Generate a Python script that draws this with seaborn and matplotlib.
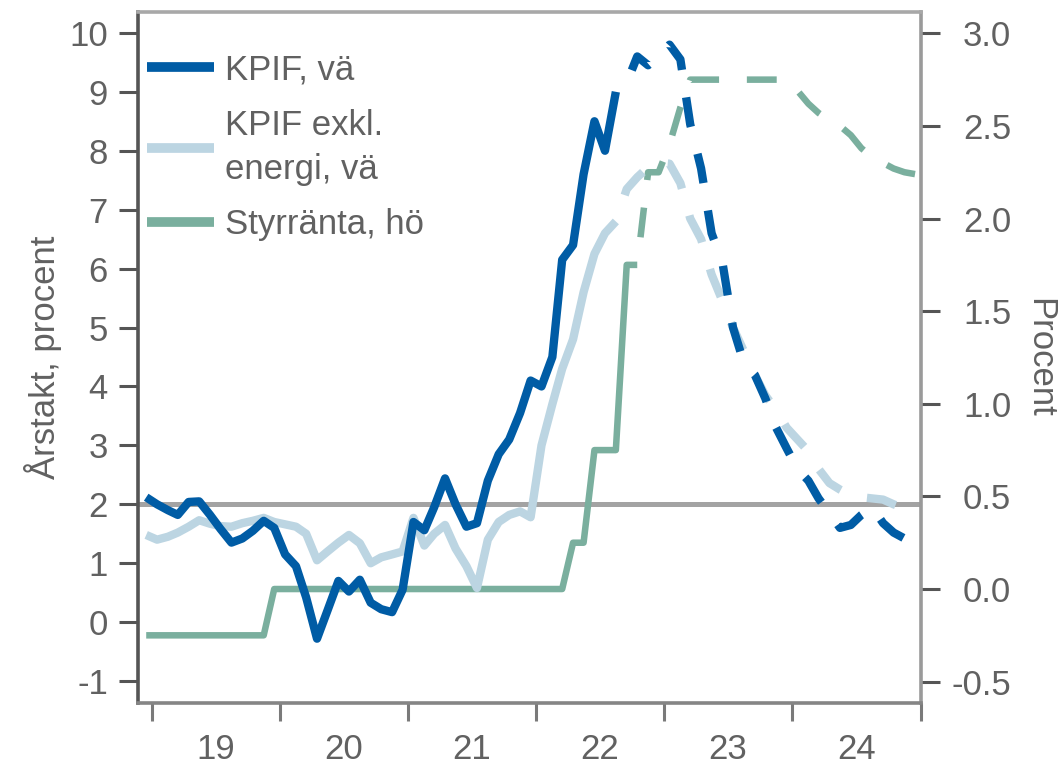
import matplotlib
matplotlib.use('Agg')
import matplotlib.pyplot as plt
from matplotlib.lines import Line2D
from matplotlib.ticker import FormatStrFormatter
from matplotlib.transforms import blended_transform_factory
import seaborn as sns
import pandas as pd

sns.set_theme(style='white')
plt.rcParams['font.family'] = ['Liberation Sans', 'DejaVu Sans']
plt.rcParams['axes.unicode_minus'] = False
plt.rcParams['lines.scale_dashes'] = False

TEXT = '#616161'
BLUE = '#005ca5'
LIGHT = '#bcd5e2'
GREEN = '#7aaf9e'

# månadsdata dec 2018 - dec 2024 (mitt i månaden)
months = pd.date_range('2018-12-01', '2024-12-01', freq='MS') + pd.Timedelta(days=15)

kpif = [2.12, 2.0, 1.9, 1.82, 2.04, 2.05, 1.82, 1.58, 1.35, 1.42,
        1.55, 1.72, 1.6, 1.15, 0.95, 0.42, -0.28, 0.2, 0.7, 0.52,
        0.72, 0.33, 0.22, 0.17, 0.55, 1.7, 1.56, 1.95, 2.44, 2.0,
        1.62, 1.68, 2.4, 2.85, 3.1, 3.55, 4.1, 4.0, 4.5, 6.15,
        6.4, 7.6, 8.5, 8.0, 9.0, 9.15, 9.6, 9.45, 9.6, 9.8,
        9.55, 8.45, 7.7, 6.6, 6.1, 5.0, 4.4, 4.2, 3.8, 3.3,
        2.95, 2.6, 2.4, 2.1, 1.85, 1.6, 1.65, 1.82, 1.95, 1.68,
        1.52, 1.42, 1.32]

kpif_ex_energy = [1.48, 1.4, 1.45, 1.52, 1.62, 1.73, 1.67, 1.63, 1.62, 1.68,
                  1.72, 1.77, 1.7, 1.66, 1.62, 1.5, 1.05, 1.2, 1.35, 1.48,
                  1.34, 1.0, 1.1, 1.15, 1.2, 1.77, 1.3, 1.5, 1.65, 1.25,
                  0.95, 0.58, 1.4, 1.7, 1.82, 1.88, 1.78, 3.0, 3.7, 4.3,
                  4.8, 5.6, 6.25, 6.6, 6.8, 7.35, 7.55, 7.72, 7.8, 7.78,
                  7.45, 6.85, 6.5, 5.9, 5.45, 5.0, 4.6, 4.2, 3.85, 3.6,
                  3.3, 3.1, 2.9, 2.6, 2.36, 2.25, 2.15, 2.12, 2.1, 2.08,
                  2.0, 1.93, 1.87]

policy_rate = [-0.25] * 12 + [0.0] * 28 + [0.25, 0.25, 0.75, 0.75, 0.75,
               1.75, 1.75, 2.25, 2.25, 2.4, 2.6] + [2.75] * 10 + [
               2.69, 2.62, 2.57, 2.53, 2.5, 2.45, 2.38, 2.33, 2.3, 2.27,
               2.25, 2.24]

kpif_last_outcome = 44   # aug 2022
rate_last_outcome = 46   # okt 2022
inflation_target = 2

year_ticks = pd.date_range('2019-01-01', '2025-01-01', freq='YS')
year_mid = pd.date_range('2019-07-01', '2024-07-01', freq='12MS')
year_labels = ['19', '20', '21', '22', '23', '24']

left_ticks = list(range(-1, 11))
right_ticks = [-0.5, 0.0, 0.5, 1.0, 1.5, 2.0, 2.5, 3.0]

ON, OFF = 21.5, 20.0
DASHED = (ON, (ON, OFF))

fig = plt.figure(figsize=(10.58, 7.67), dpi=100)
ax = fig.add_axes([0.1309, 0.0828, 0.7396, 0.9020])
ax2 = ax.twinx()
ax.set_zorder(2)
ax2.set_zorder(1)
ax.patch.set_visible(False)
ax2.patch.set_visible(True)
ax2.patch.set_facecolor('white')


def draw(axis, values, last, color, lw):
    df = pd.DataFrame({'månad': months, 'värde': values})
    sns.lineplot(data=df.iloc[:last + 1], x='månad', y='värde', color=color,
                 linewidth=lw, ax=axis, solid_capstyle='butt', solid_joinstyle='round')
    sns.lineplot(data=df.iloc[last:], x='månad', y='värde', color=color,
                 linewidth=lw, ax=axis, linestyle=DASHED, dash_capstyle='butt',
                 dash_joinstyle='round')


# reporänta på högeraxeln (bakom), inflationsmålet
draw(ax2, policy_rate, rate_last_outcome, GREEN, 4.7)
ax2.add_line(Line2D([0, 1], [inflation_target] * 2,
                    transform=blended_transform_factory(ax2.transAxes, ax.transData),
                    color='#a3a3a3', lw=3.6, zorder=0.5))
draw(ax, kpif_ex_energy, kpif_last_outcome, LIGHT, 6.0)
draw(ax, kpif, kpif_last_outcome, BLUE, 6.0)

ax.set_xlim(pd.Timestamp('2018-11-24'), pd.Timestamp('2025-01-02'))
ax.set_ylim(-1.38, 10.36)
ax2.set_ylim(-0.618, 3.117)

ax.set_yticks(left_ticks)
ax2.set_yticks(right_ticks)
ax2.yaxis.set_major_formatter(FormatStrFormatter('%.1f'))
ax.set_xticks(year_ticks)
ax.set_xticklabels([])
ax.set_xticks(year_mid, labels=year_labels, minor=True)

ax.tick_params(axis='x', which='major', bottom=True, length=13, width=2.2,
               color='#7a7a7a', direction='out')
ax.tick_params(axis='x', which='minor', bottom=True, length=0, pad=21,
               labelsize=25, labelcolor=TEXT)
ax.tick_params(axis='y', left=True, length=14, width=2.2, color='#555555',
               pad=8, labelsize=25, labelcolor=TEXT)
ax2.tick_params(axis='y', right=True, length=14, width=2.2, color='#555555',
                pad=51, labelsize=25, labelcolor=TEXT)
plt.setp(ax2.get_yticklabels(), ha='right')

for name, axis in [('left', ax), ('top', ax), ('bottom', ax), ('right', ax2)]:
    axis.spines[name].set_visible(True)
for name, axis in [('right', ax), ('left', ax2), ('top', ax2), ('bottom', ax2)]:
    axis.spines[name].set_visible(False)
ax.spines['left'].set_color('#555555')
ax.spines['bottom'].set_color('#858585')
ax.spines['top'].set_color('#a8a8a8')
ax2.spines['right'].set_color('#9a9a9a')
for sp in [ax.spines['left'], ax.spines['bottom'], ax.spines['top'], ax2.spines['right']]:
    sp.set_linewidth(2.6)

ax.set_xlabel('')
ax.set_ylabel('Årstakt, procent', fontsize=25, color=TEXT, va='center')
ax.yaxis.set_label_coords(-0.122, 0.5)
ax2.set_ylabel('Procent', fontsize=25, color=TEXT, rotation=270, va='center')
ax2.yaxis.set_label_coords(1.152, 0.5)

handles = [Line2D([], [], color=c, lw=7, solid_capstyle='butt') for c in (BLUE, LIGHT, GREEN)]
labels = ['KPIF, vä', 'KPIF exkl.\nenergi, vä', 'Styrränta, hö']
leg = ax.legend(handles, labels, loc='upper left', bbox_to_anchor=(0.0109, 0.94),
                frameon=False, fontsize=25, handlelength=1.93, handletextpad=0.33,
                labelspacing=0.65, borderpad=0, borderaxespad=0, labelcolor=TEXT)
for t in leg.get_texts():
    t.set_linespacing(1.42)

fig.savefig('out.png', dpi=100)
